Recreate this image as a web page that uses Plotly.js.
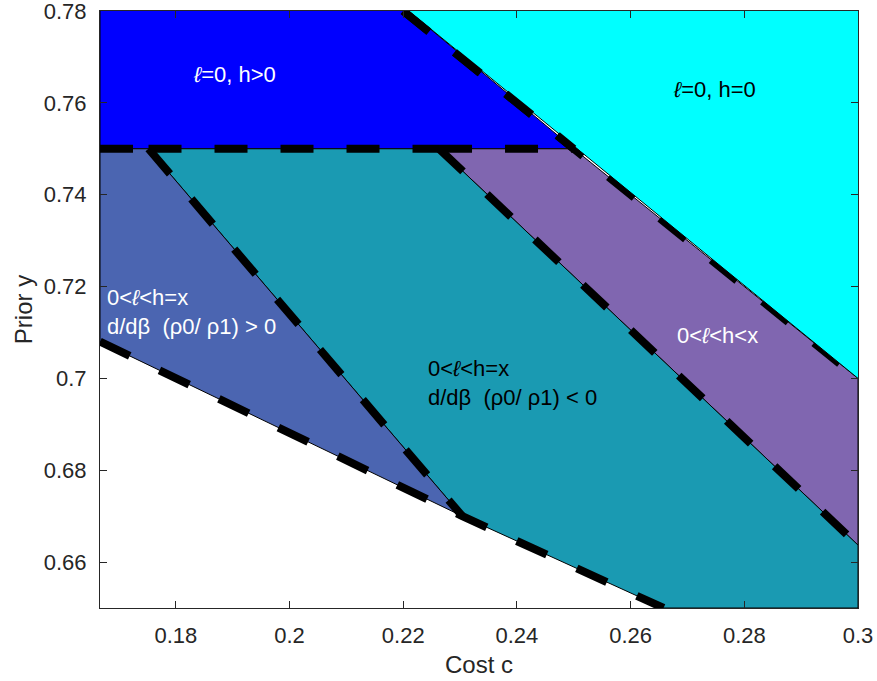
<!DOCTYPE html>
<html>
<head>
<meta charset="utf-8">
<script src="https://cdn.plot.ly/plotly-3.0.1.min.js"></script>
<style>
  html, body { margin: 0; padding: 0; background: #fff; }
  #chart { width: 877px; height: 681px; }
</style>
</head>
<body>
<div id="chart"></div>
<script>
// ---- Axis extent (cost c, prior y) ----
const cRange = [1 / 6, 0.3000001];
const yRange = [0.65, 0.7800001];

// ---- Tick labels ----
const cTicks = [0.18, 0.2, 0.22, 0.24, 0.26, 0.28, 0.3];
const cTickText = ['0.18', '0.2', '0.22', '0.24', '0.26', '0.28', '0.3'];
const yTicks = [0.66, 0.68, 0.7, 0.72, 0.74, 0.76, 0.78];
const yTickText = ['0.66', '0.68', '0.7', '0.72', '0.74', '0.76', '0.78'];

// ---- Region boundaries ----
// horizontal split at prior y = 0.75
const splitY = 0.75;
// boundary of region "ℓ=0, h=0" (y = 1 - c)
const topBoundC = [0.22, 0.25, 0.3];
const topBoundY = [0.78, 0.75, 0.70];
// boundary between "0<ℓ<h=x (<0)" and "0<ℓ<h<x"
const midBoundC = [0.2263, 0.3];
const midBoundY = [0.75, 0.6637];
// boundary between the two "0<ℓ<h=x" regions
const leftBoundC = [0.1752, 0.2304];
const leftBoundY = [0.75, 0.6700];
// lower boundary (white region below)
const lowBoundC = [1 / 6, 0.2304, 0.2658];
const lowBoundY = [0.7080, 0.6700, 0.65];

// ---- Region labels ----
const labelText = [
  '<i>ℓ</i>=0, h>0',
  '<i>ℓ</i>=0, h=0',
  '0<<i>ℓ</i><h=x<br>d/dβ  (ρ0/ ρ1) > 0',
  '0<<i>ℓ</i><h=x<br>d/dβ  (ρ0/ ρ1) < 0',
  '0<<i>ℓ</i><h<x'
];

// ---- Colours ----
const colBlue = '#0000FF';
const colCyan = '#00FFFF';
const colPurple = '#8066B0';
const colTeal = '#1A9AB2';
const colSlate = '#4B65B1';

const [cMin] = cRange;
const cMax = 0.3;
const yMin = yRange[0];
const yMax = 0.78;

function poly(xs, ys, fill) {
  return {
    type: 'scatter', mode: 'lines', x: xs.concat([xs[0]]), y: ys.concat([ys[0]]),
    fill: 'toself', fillcolor: fill, line: { color: '#000', width: 1 },
    hoverinfo: 'skip', showlegend: false
  };
}
function dashed(xs, ys) {
  return {
    type: 'scatter', mode: 'lines', x: xs, y: ys,
    line: { color: '#000', width: 8, dash: '33px,33px' },
    hoverinfo: 'skip', showlegend: false
  };
}

// Polygons
const blueReg = poly(
  [cMin, topBoundC[0], topBoundC[1], cMin],
  [yMax + 0.001, topBoundY[0] + 0.001, topBoundY[1], splitY], colBlue);
const purpleReg = poly(
  [midBoundC[0], topBoundC[1], topBoundC[2], midBoundC[1]],
  [midBoundY[0], topBoundY[1], topBoundY[2], midBoundY[1]], colPurple);
const tealReg = poly(
  [leftBoundC[0], midBoundC[0], midBoundC[1], cMax, lowBoundC[2], lowBoundC[1]],
  [leftBoundY[0], midBoundY[0], midBoundY[1], yMin, lowBoundY[2], lowBoundY[1]], colTeal);
const slateReg = poly(
  [cMin, leftBoundC[0], leftBoundC[1], lowBoundC[0]],
  [splitY, leftBoundY[0], leftBoundY[1], lowBoundY[0]], colSlate);
const cyanReg = poly(
  [topBoundC[0], cMax + 0.001, cMax + 0.001, topBoundC[2]],
  [yMax + 0.001, yMax + 0.001, topBoundY[2] - 0.001, topBoundY[2]], colCyan);

const traces = [
  blueReg, purpleReg, tealReg, slateReg,
  dashed([cMin, leftBoundC[0]], [splitY, splitY]),
  dashed([leftBoundC[0], midBoundC[0]], [splitY, splitY]),
  dashed([midBoundC[0], topBoundC[1]], [splitY, splitY]),
  dashed(leftBoundC, leftBoundY),
  dashed(lowBoundC, lowBoundY),
  dashed(midBoundC, midBoundY),
  dashed(topBoundC, topBoundY),
  cyanReg,
  dashed(topBoundC.slice(0, 2), topBoundY.slice(0, 2))
];

const fontFam = 'Liberation Sans, Arial, Helvetica, sans-serif';
const axisCol = '#262626';

const layout = {
  width: 877, height: 681,
  margin: { l: 100, r: 19, t: 11, b: 73 },
  paper_bgcolor: '#fff', plot_bgcolor: '#fff',
  font: { family: fontFam, size: 22, color: axisCol },
  showlegend: false,
  xaxis: {
    range: cRange, tickvals: cTicks, ticktext: cTickText,
    ticks: 'inside', ticklen: 7, tickwidth: 1, tickcolor: axisCol,
    showline: true, linecolor: axisCol, linewidth: 1, mirror: 'ticks',
    showgrid: false, zeroline: false, ticklabelstandoff: 8, ticklabeloverflow: 'allow',
    tickfont: { size: 22, color: axisCol, family: fontFam },
    title: { text: 'Cost c', font: { size: 24, color: axisCol, family: fontFam }, standoff: 8 }
  },
  yaxis: {
    range: yRange, tickvals: yTicks, ticktext: yTickText,
    ticks: 'inside', ticklen: 7, tickwidth: 1, tickcolor: axisCol,
    showline: true, linecolor: axisCol, linewidth: 1, mirror: 'ticks',
    showgrid: false, zeroline: false, ticklabelstandoff: 8, ticklabeloverflow: 'allow',
    tickfont: { size: 22, color: axisCol, family: fontFam },
    title: { text: 'Prior y', font: { size: 24, color: axisCol, family: fontFam }, standoff: 4 }
  },
  annotations: [
    { x: 0.1904, y: 0.7661, text: labelText[0], font: { color: '#fff', size: 22 }, xanchor: 'center', yanchor: 'middle' },
    { x: 0.2748, y: 0.7630, text: labelText[1], font: { color: '#000', size: 22 }, xanchor: 'center', yanchor: 'middle' },
    { x: 0.1678, y: 0.7145, text: labelText[2], font: { color: '#fff', size: 22 }, xanchor: 'left', yanchor: 'middle', align: 'left' },
    { x: 0.2242, y: 0.6991, text: labelText[3], font: { color: '#000', size: 22 }, xanchor: 'left', yanchor: 'middle', align: 'left' },
    { x: 0.2753, y: 0.7094, text: labelText[4], font: { color: '#fff', size: 22 }, xanchor: 'center', yanchor: 'middle' }
  ].map(a => Object.assign({ xref: 'x', yref: 'y', showarrow: false, borderpad: 0 }, a,
    { font: Object.assign({ family: fontFam }, a.font) }))
};

Plotly.newPlot('chart', traces, layout, { staticPlot: true, displayModeBar: false });
</script>
</body>
</html>
